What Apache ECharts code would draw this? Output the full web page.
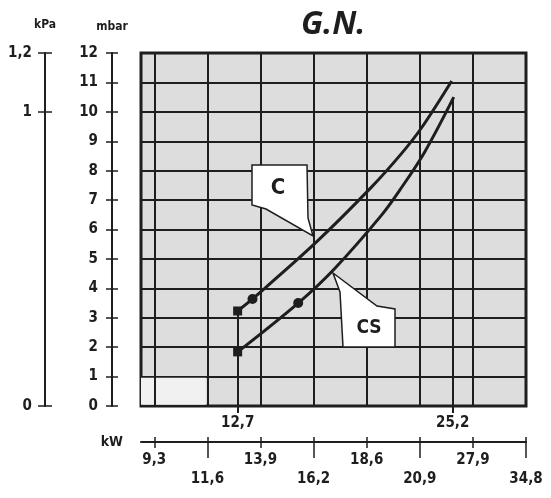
<!DOCTYPE html>
<html>
<head>
<meta charset="utf-8">
<script src="https://cdn.jsdelivr.net/npm/echarts@6/dist/echarts.min.js"></script>
<style>
  html, body { margin: 0; padding: 0; background: #fff; }
  #chart { width: 551px; height: 498px; }
</style>
</head>
<body>
<div id="chart"></div>
<script>
// kW scale is not linear: ticks are equally spaced, so x is the tick index
const kwTicks = [0, 1, 2, 3, 4, 5, 6, 7];
const kwLabels = ['9,3', '11,6', '13,9', '16,2', '18,6', '20,9', '27,9', '34,8'];
const kwUpper = [0, 2, 4, 6];
const kwLower = [1, 3, 5, 7];

// the two marked powers, in tick-index units
const markTicks = [1.57, 5.62];
const markLabels = ['12,7', '25,2'];

const kpaTicks = [0, 1, 1.2];

// curves, [x index, mbar]
const cData = [[1.57, 3.23], [1.85, 3.64], [3.05, 5.57], [4.09, 7.44], [4.65, 8.57], [5.03, 9.45], [5.60, 11.05]];
const csData = [[1.57, 1.84], [2.71, 3.50], [3.39, 4.66], [4.28, 6.49], [4.65, 7.41], [5.09, 8.63], [5.64, 10.50]];

const INK = '#1e1e1e';
const FONT = '"Liberation Sans Narrow", "DejaVu Sans Condensed", "DejaVu Sans", sans-serif';
const X_MIN = -0.25, X_MAX = 7;

function labelFor(list, labels, v) {
    let best = 0;
    list.forEach((t, i) => { if (Math.abs(t - v) < Math.abs(list[best] - v)) best = i; });
    return labels[best];
}

const tickText = { color: INK, fontFamily: FONT, fontSize: 15, fontWeight: 'bold' };
const noLine = { show: false, onZero: false };
const inkLine = { show: true, onZero: false, lineStyle: { color: INK, width: 2 } };

function curvePoints(data) {
    return data.map((p, i) => {
        if (i === 0) return { value: p, symbol: 'rect', symbolSize: 9 };
        if (i === 1) return { value: p, symbol: 'circle', symbolSize: 10 };
        return { value: p };
    });
}

const chart = echarts.init(document.getElementById('chart'));

chart.setOption({
    animation: false,
    backgroundColor: '#fff',
    title: {
        text: 'G.N.',
        left: 296, top: 4,
        textStyle: { fontFamily: '"Open Sans", sans-serif', fontStyle: 'italic', fontWeight: 'bold', fontSize: 32, color: INK }
    },
    grid: {
        left: 141, right: 25, top: 53, bottom: 92,
        show: true, backgroundColor: '#dddddd', borderColor: INK, borderWidth: 3
    },
    xAxis: [
        { type: 'value', min: X_MIN, max: X_MAX, show: false, axisLine: noLine },
        {
            type: 'value', min: X_MIN, max: X_MAX, position: 'bottom', offset: 0,
            axisLine: noLine,
            axisTick: { show: true, customValues: markTicks, length: 7, lineStyle: { color: INK, width: 2 } },
            axisLabel: { customValues: markTicks, margin: 10, formatter: v => labelFor(markTicks, markLabels, v), ...tickText },
            splitLine: { show: false }
        },
        {
            type: 'value', min: X_MIN, max: X_MAX, position: 'bottom', offset: 36,
            name: 'kW', nameLocation: 'start', nameGap: 18,
            nameTextStyle: { ...tickText, fontSize: 14, padding: [8, 0, 0, 0] },
            axisLine: inkLine,
            axisTick: { show: true, customValues: kwUpper, length: 6, lineStyle: { color: INK, width: 1.5 } },
            axisLabel: { customValues: kwUpper, margin: 11, formatter: v => labelFor(kwTicks, kwLabels, v), ...tickText },
            splitLine: { show: false }
        },
        {
            type: 'value', min: X_MIN, max: X_MAX, position: 'bottom', offset: 36,
            axisLine: noLine,
            axisTick: { show: true, customValues: kwLower, length: 16, lineStyle: { color: INK, width: 1.5 } },
            axisLabel: { customValues: kwLower, margin: 30, formatter: v => labelFor(kwTicks, kwLabels, v), ...tickText },
            splitLine: { show: false }
        },
        {
            type: 'value', min: X_MIN, max: X_MAX, position: 'bottom', offset: 36,
            axisLine: noLine,
            axisTick: { show: true, inside: true, customValues: kwTicks, length: 5, lineStyle: { color: INK, width: 1.5 } },
            axisLabel: { show: false },
            splitLine: { show: false }
        }
    ],
    yAxis: [
        {
            type: 'value', min: 0, max: 12, interval: 1,
            axisLine: noLine, axisTick: { show: false }, axisLabel: { show: false },
            splitLine: { show: true, lineStyle: { color: INK, width: 2 } }
        },
        {
            type: 'value', min: 0, max: 12, interval: 1, position: 'left', offset: 29,
            name: 'mbar', nameLocation: 'end', nameGap: 20,
            nameTextStyle: { ...tickText, fontSize: 12 },
            axisLine: inkLine,
            axisTick: { show: true, length: 6, lineStyle: { color: INK, width: 1.5 } },
            axisLabel: { margin: 14, ...tickText },
            splitLine: { show: false }
        },
        {
            type: 'value', min: 0, max: 12, interval: 1, position: 'left', offset: 29,
            axisLine: noLine,
            axisTick: { show: true, inside: true, length: 6, lineStyle: { color: INK, width: 1.5 } },
            axisLabel: { show: false }, splitLine: { show: false }
        },
        {
            type: 'value', min: 0, max: 1.2, position: 'left', offset: 96,
            name: 'kPa', nameLocation: 'end', nameGap: 22,
            nameTextStyle: { ...tickText, fontSize: 12 },
            axisLine: inkLine,
            axisTick: { show: true, customValues: kpaTicks, length: 7, lineStyle: { color: INK, width: 1.5 } },
            axisLabel: { customValues: kpaTicks, margin: 13, formatter: v => String(v).replace('.', ','), ...tickText },
            splitLine: { show: false }
        },
        {
            type: 'value', min: 0, max: 1.2, position: 'left', offset: 96,
            axisLine: noLine,
            axisTick: { show: true, inside: true, customValues: kpaTicks, length: 7, lineStyle: { color: INK, width: 1.5 } },
            axisLabel: { show: false }, splitLine: { show: false }
        }
    ],
    series: [
        {
            // vertical grid lines on the kW ticks
            type: 'line', data: [], z: 1, silent: true,
            markArea: {
                silent: true,
                itemStyle: { color: '#f1f1f1' },
                data: [[{ coord: [X_MIN, 0.04] }, { coord: [0.97, 0.96] }]]
            },
            markLine: {
                silent: true, symbol: ['none', 'none'], label: { show: false },
                lineStyle: { color: INK, width: 2, type: 'solid' },
                data: kwTicks.map(v => ({ xAxis: v }))
            }
        },
        {
            name: 'C', type: 'line', smooth: 0.35, symbol: 'none', z: 5,
            data: curvePoints(cData),
            lineStyle: { color: INK, width: 3 },
            itemStyle: { color: INK },
            markLine: {
                silent: true, symbol: ['none', 'none'], label: { show: false },
                lineStyle: { color: INK, width: 2, type: 'solid' },
                data: [[{ coord: [markTicks[0], cData[0][1]] }, { coord: [markTicks[0], 0] }]]
            }
        },
        {
            name: 'CS', type: 'line', smooth: 0.35, symbol: 'none', z: 5,
            data: curvePoints(csData),
            lineStyle: { color: INK, width: 3 },
            itemStyle: { color: INK },
            markLine: {
                silent: true, symbol: ['none', 'none'], label: { show: false },
                lineStyle: { color: INK, width: 2, type: 'solid' },
                data: [[{ coord: [markTicks[1], csData[csData.length - 1][1]] }, { coord: [markTicks[1], 0] }]]
            }
        }
    ],
    graphic: [
        {
            type: 'polygon', z: 10,
            shape: { points: [[252, 165], [307, 165], [308, 218], [313, 236], [266, 209], [252, 205]] },
            style: { fill: '#fff', stroke: INK, lineWidth: 1.5 }
        },
        {
            type: 'text', z: 11, x: 278, y: 188,
            style: { text: 'C', fill: INK, font: 'bold 22px ' + FONT, align: 'center', verticalAlign: 'middle' }
        },
        {
            type: 'polygon', z: 10,
            shape: { points: [[333, 273], [377, 306], [395, 309], [395, 347], [343, 347], [340, 292]] },
            style: { fill: '#fff', stroke: INK, lineWidth: 1.5 }
        },
        {
            type: 'text', z: 11, x: 369, y: 328,
            style: { text: 'CS', fill: INK, font: 'bold 19px ' + FONT, align: 'center', verticalAlign: 'middle' }
        }
    ]
});
</script>
</body>
</html>
